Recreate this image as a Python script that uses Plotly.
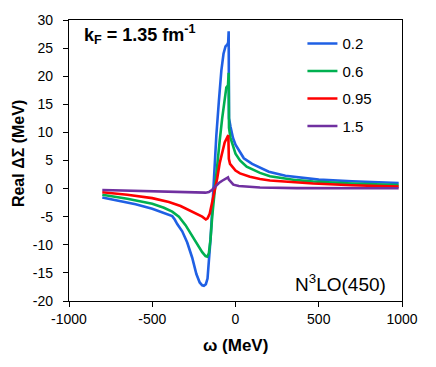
import plotly.graph_objects as go

# ---- data ----
omega_02 = [-800, -700, -600, -500, -430, -380, -365, -350, -320, -290, -260, -235, -215, -200, -190,
            -178, -168, -160, -150, -140, -130, -115, -100, -85, -72, -60, -50, -44, -41, -39,
            -30, -15, 0, 25, 50, 100, 150, 200, 300, 400, 500, 700, 980]
re_02 = [-1.6, -2.2, -2.8, -3.6, -4.3, -4.9, -5.5, -6.3, -7.6, -9.6, -12.3, -15.2, -16.7, -17.2, -17.3,
         -17.0, -16.0, -13.5, -9.0, -4.0, 2.0, 9.5, 15.5, 21.0, 24.0, 25.3, 25.6, 26.0, 28.0, 12.5,
         11.0, 9.0, 7.8, 6.6, 5.4, 4.4, 3.7, 3.0, 2.3, 1.9, 1.6, 1.3, 1.0]

omega_06 = [-800, -650, -500, -430, -380, -340, -300, -260, -225, -200, -180, -170, -160, -150, -140,
            -125, -110, -95, -80, -65, -55, -45, -41, -39, -30, 0, 27, 67, 147, 207, 367, 467, 700, 980]
re_06 = [-1.1, -1.8, -2.7, -3.4, -4.1, -5.0, -6.5, -8.5, -10.3, -11.3, -12.0, -12.1, -11.5, -9.0, -5.0,
         0.0, 4.5, 8.5, 12.5, 16.5, 18.0, 18.4, 20.6, 10.8, 9.0, 6.2, 5.0, 3.9, 2.8, 2.2, 1.5, 1.25, 0.9, 0.62]

omega_095 = [-800, -650, -500, -400, -330, -280, -240, -200, -178, -168, -155, -140, -125, -110, -95,
             -80, -65, -52, -43, -40, -33, 0, 27, 87, 147, 207, 367, 467, 700, 980]
re_095 = [-0.66, -1.1, -1.7, -2.4, -3.1, -3.8, -4.4, -5.0, -5.5, -5.3, -4.5, -2.5, -0.5, 1.8, 4.5,
          6.5, 8.2, 9.0, 9.5, 5.3, 4.4, 3.2, 2.7, 2.1, 1.7, 1.45, 1.05, 0.9, 0.6, 0.35]

omega_15 = [-800, -600, -400, -250, -180, -160, -140, -120, -100, -80, -60, -45, -40, -30, -13,
            20, 67, 147, 367, 980]
re_15 = [-0.25, -0.4, -0.58, -0.7, -0.72, -0.6, -0.2, 0.4, 1.0, 1.4, 1.8, 2.0, 1.6, 1.2, 0.7,
         0.45, 0.34, 0.2, 0.08, 0.05]

series_names = ["0.2", "0.6", "0.95", "1.5"]
series_colors = ["#1f60e4", "#00b050", "#ff0000", "#7030a0"]
series_x = [omega_02, omega_06, omega_095, omega_15]
series_y = [re_02, re_06, re_095, re_15]

x_ticks = [-1000, -500, 0, 500, 1000]
x_tick_text = ["-1000", "-500", "0", "500", "1000"]
y_ticks = [-20, -15, -10, -5, 0, 5, 10, 15, 20, 25, 30]
y_tick_text = ["-20", "-15", "-10", "-5", "0", "5", "10", "15", "20", "25", "30"]

FONT = "Liberation Sans, Arial, sans-serif"

fig = go.Figure()
for i, (name, col, xs, ys) in enumerate(zip(series_names, series_colors, series_x, series_y)):
    fig.add_trace(go.Scatter(x=xs, y=ys, mode="lines", name=name,
                             line=dict(color=col, width=2.6),
                             legendgroup=f"g{i}"))

axis_common = dict(showgrid=False, zeroline=False, linecolor="black", linewidth=1.3,
                   tickcolor="black", tickwidth=1.2, ticklen=5, automargin=False,
                   tickfont=dict(family=FONT, size=14, color="black"))

fig.update_layout(
    width=428, height=359,
    margin=dict(l=61, r=34, t=12, b=66),
    plot_bgcolor="white", paper_bgcolor="white",
    showlegend=True,
    legend=dict(x=0.701, y=0.974, xanchor="left", yanchor="top",
                font=dict(family=FONT, size=15, color="black"),
                bgcolor="rgba(0,0,0,0)", tracegroupgap=5,
                traceorder="grouped"),
    xaxis=dict(range=[-1000, 1000], tickvals=x_ticks, ticktext=x_tick_text, ticks="outside",
               mirror=True, showline=True, **axis_common),
    yaxis=dict(range=[-20, 30], tickvals=y_ticks, ticktext=y_tick_text, ticks="outside",
               mirror=True, showline=True, ticklabelstandoff=7, **axis_common),
    xaxis2=dict(range=[-1000, 1000], tickvals=x_ticks, ticks="inside", overlaying="x",
                showline=False, showticklabels=False, showgrid=False, zeroline=False,
                tickcolor="black", tickwidth=1.2, ticklen=5, anchor="y"),
    yaxis2=dict(range=[-20, 30], tickvals=y_ticks, ticks="inside", overlaying="y",
                showline=False, showticklabels=False, showgrid=False, zeroline=False,
                tickcolor="black", tickwidth=1.2, ticklen=5, anchor="x"),
)

fig.add_annotation(text="<b>k<sub>F</sub> = 1.35 fm<sup>-1</sup></b>", xref="paper", yref="paper",
                   x=0.039, y=0.947, xanchor="left", yanchor="middle", showarrow=False,
                   font=dict(family=FONT, size=18, color="black"))
fig.add_annotation(text="N<sup>3</sup>LO(450)", xref="paper", yref="paper",
                   x=0.958, y=0.064, xanchor="right", yanchor="middle", showarrow=False,
                   font=dict(family=FONT, size=19, color="black"))
fig.add_annotation(text="<b>ω (MeV)</b>", xref="paper", yref="paper",
                   x=0.5, y=-0.157, xanchor="center", yanchor="middle", showarrow=False,
                   font=dict(family=FONT, size=17, color="black"))
fig.add_annotation(text="<b>Real ΔΣ (MeV)</b>", xref="paper", yref="paper",
                   x=-0.153, y=0.523, xanchor="center", yanchor="middle", showarrow=False,
                   textangle=-90, font=dict(family=FONT, size=16, color="black"))

fig.write_html("out.html")
